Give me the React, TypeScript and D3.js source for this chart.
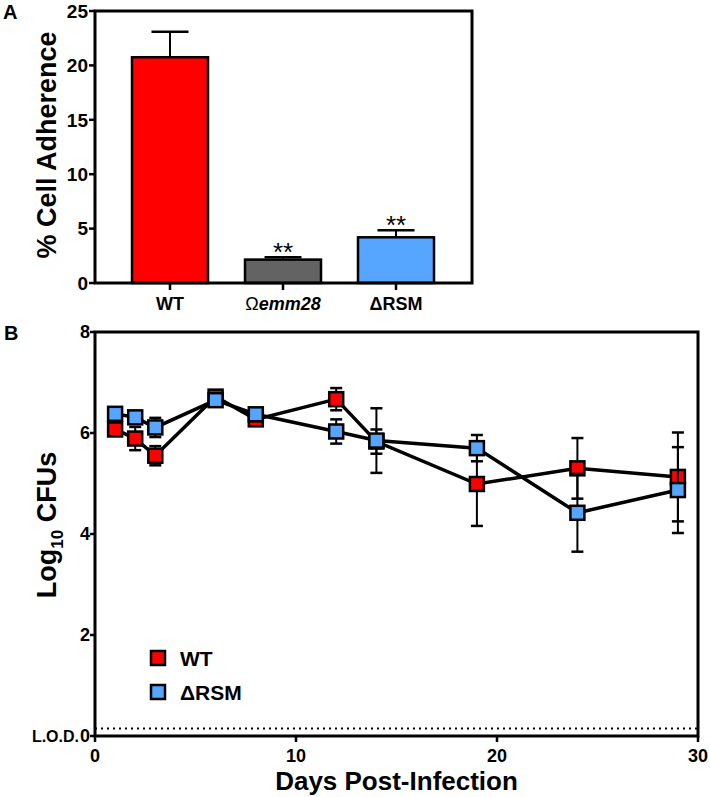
import React, { useEffect } from "react";
import * as d3 from "d3";

// Panel A: % cell adherence
const strains = ["WT", "Omega", "dRSM"];
const adherence = [20.75, 2.15, 4.2];
const adherenceErr = [2.35, 0.22, 0.65];
const barColors = ["#ff0000", "#636363", "#56a5ff"];
const stars = ["", "**", "**"];
const yTicksA = [0, 5, 10, 15, 20, 25];

// Panel B: log10 CFUs over time
const days = [1, 2, 3, 6, 8, 12, 14, 19, 24, 29];
const wtCfu = [6.07, 5.89, 5.55, 6.72, 6.27, 6.67, 5.83, 4.99, 5.3, 5.13];
const wtErr = [0.1, 0.23, 0.19, 0.1, 0.08, 0.22, 0.24, 0.83, 0.6, 0.88];
const rsmCfu = [6.38, 6.31, 6.11, 6.65, 6.37, 6.03, 5.85, 5.7, 4.42, 4.87];
const rsmErr = [0.1, 0.1, 0.19, 0.1, 0.1, 0.24, 0.64, 0.26, 0.77, 0.85];
const yTicksB = [0, 2, 4, 6, 8];
const xTicksB = [0, 10, 20, 30];
const lod = 0.15;

const FONT = "'Liberation Sans', Arial, Helvetica, sans-serif";

export default function App() {
  useEffect(() => {
    document.body.style.margin = "0";
  }, []);

  // --- panel A scales
  const xA = d3.scalePoint<string>().domain(strains).range([170, 396]);
  const yA = d3.scaleLinear().domain([0, 25]).range([283, 11]);
  const barW = 76;
  const capA = 37;

  // --- panel B scales
  const xB = d3.scaleLinear().domain([0, 30]).range([95, 698]);
  const yB = d3.scaleLinear().domain([0, 8]).range([736, 332]);
  const line = d3
    .line<number>()
    .x((_, i) => xB(days[i]))
    .y((d) => yB(d));

  const series = [
    { name: "WT", vals: wtCfu, err: wtErr, color: "#ff0000" },
    { name: "ΔRSM", vals: rsmCfu, err: rsmErr, color: "#56a5ff" },
  ];
  const sq = 14;
  const capB = 12;

  return (
    <svg width={710} height={797} style={{ display: "block", fontFamily: FONT }}>
      <rect width={710} height={797} fill="#fff" />

      {/* ===== Panel A ===== */}
      <text x={3} y={19} fontSize={20} fontWeight="bold">A</text>

      {/* bars */}
      {strains.map((s, i) => {
        const cx = xA(s)!;
        const top = yA(adherence[i]);
        const et = yA(adherence[i] + adherenceErr[i]);
        return (
          <g key={s}>
            <line x1={cx} x2={cx} y1={top} y2={et} stroke="#000" strokeWidth={2} />
            <line x1={cx - capA / 2} x2={cx + capA / 2} y1={et} y2={et} stroke="#000" strokeWidth={2.5} />
            <rect x={cx - barW / 2} y={top} width={barW} height={yA(0) - top}
              fill={barColors[i]} stroke="#000" strokeWidth={2.5} />
            {stars[i] && (
              <text x={cx} y={et + 4} textAnchor="middle" fontSize={26}>{stars[i]}</text>
            )}
          </g>
        );
      })}

      {/* frame */}
      <rect x={95} y={11} width={377} height={272} fill="none" stroke="#000" strokeWidth={3} />

      {/* y ticks A */}
      {yTicksA.map((t) => (
        <g key={t}>
          <line x1={89} x2={95} y1={yA(t)} y2={yA(t)} stroke="#000" strokeWidth={2.5} />
          <text x={88} y={yA(t)} dy="0.36em" textAnchor="end" fontSize={19} fontWeight="bold">{t}</text>
        </g>
      ))}
      {/* x ticks A */}
      {strains.map((s) => (
        <line key={s} x1={xA(s)!} x2={xA(s)!} y1={283} y2={290} stroke="#000" strokeWidth={2.5} />
      ))}
      <text x={xA("WT")!} y={310} textAnchor="middle" fontSize={18} fontWeight="bold">WT</text>
      <text x={xA("Omega")!} y={310} textAnchor="middle" fontSize={18} fontWeight="bold">
        <tspan fontWeight="normal">Ω</tspan>
        <tspan fontStyle="italic">emm28</tspan>
      </text>
      <text x={xA("dRSM")!} y={310} textAnchor="middle" fontSize={18} fontWeight="bold">ΔRSM</text>

      <text transform={`translate(56,${145}) rotate(-90)`} textAnchor="middle" fontSize={27} fontWeight="bold">
        % Cell Adherence
      </text>

      {/* ===== Panel B ===== */}
      <text x={4} y={340} fontSize={20} fontWeight="bold">B</text>

      {/* LOD */}
      <line x1={95} x2={698} y1={yB(lod)} y2={yB(lod)} stroke="#000" strokeWidth={2} strokeDasharray="2,4" />
      <text x={79} y={yB(0)} dy="0.36em" textAnchor="end" fontSize={16} fontWeight="bold">L.O.D.</text>

      {/* series */}
      {series.map((s) => (
        <g key={s.name}>
          <path d={line(s.vals)!} fill="none" stroke="#000" strokeWidth={3.5} />
          {s.vals.map((v, i) => {
            const cx = xB(days[i]);
            const y1 = yB(v + s.err[i]);
            const y2 = yB(v - s.err[i]);
            return (
              <g key={i}>
                <line x1={cx} x2={cx} y1={y1} y2={y2} stroke="#000" strokeWidth={2} />
                <line x1={cx - capB / 2} x2={cx + capB / 2} y1={y1} y2={y1} stroke="#000" strokeWidth={2.5} />
                <line x1={cx - capB / 2} x2={cx + capB / 2} y1={y2} y2={y2} stroke="#000" strokeWidth={2.5} />
              </g>
            );
          })}
          {s.vals.map((v, i) => (
            <rect key={"m" + i} x={xB(days[i]) - sq / 2} y={yB(v) - sq / 2} width={sq} height={sq}
              fill={s.color} stroke="#000" strokeWidth={2.5} />
          ))}
        </g>
      ))}

      {/* frame B */}
      <rect x={95} y={332} width={603} height={404} fill="none" stroke="#000" strokeWidth={3} />

      {/* y ticks B */}
      {yTicksB.map((t) => (
        <g key={t}>
          <line x1={90} x2={95} y1={yB(t)} y2={yB(t)} stroke="#000" strokeWidth={2.5} />
          <text x={90} y={yB(t)} dy="0.36em" textAnchor="end" fontSize={18} fontWeight="bold">{t}</text>
        </g>
      ))}
      {/* x ticks B */}
      {xTicksB.map((t) => (
        <g key={t}>
          <line x1={xB(t)} x2={xB(t)} y1={736} y2={742} stroke="#000" strokeWidth={2.5} />
          <text x={xB(t)} y={762} textAnchor="middle" fontSize={18} fontWeight="bold">{t}</text>
        </g>
      ))}

      <text x={(95 + 698) / 2} y={790} textAnchor="middle" fontSize={26} fontWeight="bold">Days Post-Infection</text>
      <text transform={`translate(56,${525}) rotate(-90)`} textAnchor="middle" fontSize={27} fontWeight="bold">
        Log<tspan fontSize={17} dy={7}>10</tspan>
        <tspan dy={-7}> CFUs</tspan>
      </text>

      {/* legend */}
      {series.map((s, i) => (
        <g key={"lg" + s.name} transform={`translate(158,${658 + i * 34})`}>
          <rect x={-sq / 2} y={-sq / 2} width={sq} height={sq} fill={s.color} stroke="#000" strokeWidth={2.5} />
          <text x={22} y={0} dy="0.36em" fontSize={21} fontWeight="bold">{s.name}</text>
        </g>
      ))}
    </svg>
  );
}
